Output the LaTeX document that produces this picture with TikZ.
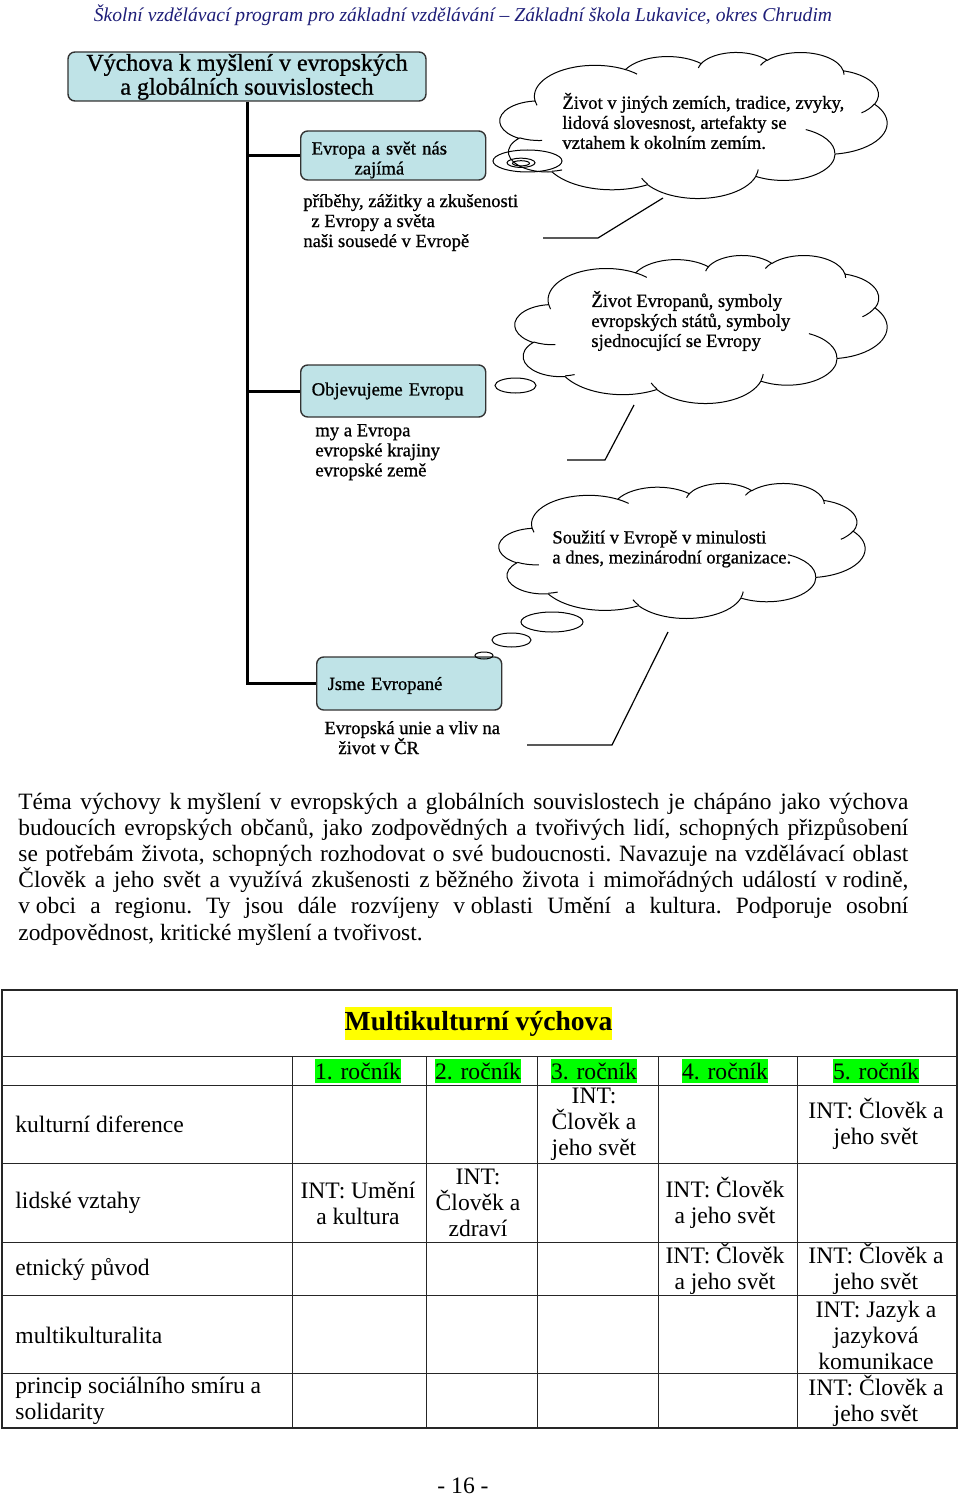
\documentclass[tikz,border=0pt]{standalone}
\usepackage{fontspec}
\setmainfont{Liberation Serif}
\newfontfamily\diagfamily[FakeBold=0.8]{Liberation Serif}
\usepackage{tikz}
\usetikzlibrary{
	positioning
}

\definecolor{boxfill}{RGB}{191,227,231}
\definecolor{headblue}{RGB}{30,30,120}
\definecolor{hlgreen}{RGB}{0,255,0}
\definecolor{hlyellow}{RGB}{255,255,0}

\newcommand\diagsize{\diagfamily\fontsize{9.3}{10}\selectfont}
\newcommand\bodysize{\fontsize{11.7}{13.1}\selectfont}
\newcommand\cellsize{\fontsize{11.8}{13}\selectfont}
\newcommand\czsp{\nobreak\hskip0.25em\relax}
\newcommand\lowerby[2]{\raisebox{-#1}[\height][\depth]{#2}}

% parametric angle of a point given by its visual angle on an ellipse
\pgfmathdeclarefunction{parang}{3}{%
	\begingroup
	\pgfmathparse{atan2((#1)*sin(#3),(#2)*cos(#3))}%
	\pgfmathsmuggle\pgfmathresult
	\endgroup}
\newcommand\carc[4]{arc[x radius=#1,y radius=#2,start angle={parang(#1,#2,#3)},delta angle={mod(parang(#1,#2,(#3)+(#4))-parang(#1,#2,#3)+720,360)}]}

% cloud outline (box 432 x 432), drawn at x,y with width w and height h
\newcommand\cloudshape[4]{%
	\begin{scope}[shift={(#1,#2)},xscale=#3/432,yscale=#4/432]
		\draw[cloudline] (39,143.7) \carc{67.53}{91.90}{-190.4875}{123.7805}
			\carc{53.33}{72.67}{-144.1024}{89.9452}
			\carc{43.65}{59.45}{-145.8079}{99.7230}
			\carc{48.57}{65.95}{-130.9861}{117.2417}
			\carc{53.33}{72.73}{-78.7089}{109.0269}
			\carc{67.75}{92.20}{-46.2673}{130.2690}
			\carc{57.85}{78.67}{0.6250}{114.0333}
			\carc{67.52}{92.15}{22.4516}{115.1726}
			\carc{77.20}{105.43}{66.2426}{75.7110}
			\carc{43.60}{59.18}{-274.9421}{146.7356}
			\carc{43.45}{59.45}{-246.8285}{152.5189} -- cycle;
		\draw[cloudline] (46.93,261.77) \carc{43.45}{59.45}{86.7420}{26.4295}
			(69.28,348.99) \carc{43.60}{59.18}{73.6105}{11.4475}
			(164.78,390.90) \carc{67.52}{92.15}{137.6242}{14.0811}
			(288.27,347.51) \carc{67.52}{92.15}{6.4533}{15.9984}
			(341.29,229.54) \carc{57.85}{78.67}{-70.2924}{70.9174}
			(417.98,153.54) \carc{53.33}{72.73}{30.3180}{27.7515}
			(383.24,54.26) \carc{48.57}{65.95}{-13.7443}{14.8606}
			(290.78,39.52) \carc{48.57}{65.95}{-149.1815}{18.1842}
			(221.41,47.20) \carc{43.65}{59.45}{-163.4943}{17.6925}
			(140.00,51.92) \carc{67.53}{91.90}{-66.7070}{12.3194}
			(41.27,157.89) \carc{67.53}{91.90}{157.6544}{11.8582};
	\end{scope}}

\begin{document}
\begin{tikzpicture}[
			x=0.5pt,y=-0.5pt,
			titlebox/.style={
				draw=black!80,
				line width=0.7pt,
				rounded corners=3.5pt,
				fill=boxfill,
				minimum width=179pt,
				minimum height=24.5pt,
				inner ysep=0pt,
				align=center,
				font=\diagfamily\fontsize{12}{12.5}\selectfont
			},
			topicbox/.style={
				draw=black!80,
				line width=0.7pt,
				rounded corners=3.5pt,
				fill=boxfill,
				text width=81.5pt,
				inner xsep=5.5pt,
				inner ysep=0pt,
				align=left,
				anchor=west,
				font=\diagsize
			},
			notes/.style={inner sep=0pt,align=left,font=\diagsize},
			cloudtext/.style={inner sep=0pt,align=left,anchor=west,font=\diagsize},
			cloudline/.style={line width=0.5pt},
			trunk/.style={line width=1.5pt},
			callout/.style={line width=0.6pt},
			grid/.style={line width=0.45pt,black!85},
			gridouter/.style={line width=0.8pt,black!85},
			cell/.style={inner sep=0pt,align=center,font=\cellsize},
			rowlabel/.style={inner sep=0pt,align=left,anchor=west,font=\cellsize},
			yearhl/.style={fill=hlgreen,inner xsep=0pt,inner ysep=0pt,minimum height=12.3pt,font=\cellsize}
			]
			
			\path[fill=white,use as bounding box] (0,0) rectangle (960,1498);
			
			\node[font=\fontsize{9.8}{11}\selectfont\itshape,text=headblue] (head) at (463,15)
			{Školní vzdělávací program pro základní vzdělávání – Základní škola Lukavice, okres Chrudim};
			
			% map of the topic
			\node[titlebox] (title) at (247,76.5)
			{\lowerby{0.6pt}{\begin{tabular}{@{}c@{}}Výchova k myšlení v evropských\\[-0.5pt]a globálních souvislostech\end{tabular}}};
			
			\node[topicbox,minimum height=24.5pt] (evropa) at (300,155.5)
			{\lowerby{2.5pt}{\begin{tabular}{@{}c@{}}Evropa a svět nás\\zajímá\end{tabular}}};
			
			\node[topicbox,minimum height=26pt] (objev) at (300,391)
			{Objevujeme Evropu};
			
			\node[topicbox,minimum height=26.5pt] (jsme) at (316,683.5)
			{\lowerby{1pt}{Jsme Evropané}};
			
			\node[notes,below right=6.5pt and 1.5pt of evropa.south west] (pribehy)
			{příběhy, zážitky a zkušenosti\\\hspace*{4pt}z Evropy a světa\\naši sousedé v Evropě};
			
			\node[notes,below right=3pt and 7.5pt of objev.south west] (myeu)
			{my a Evropa\\evropské krajiny\\evropské země};
			
			\node[notes,below right=5pt and 4pt of jsme.south west] (unie)
			{Evropská unie a vliv na\\\hspace*{7pt}život v ČR};
			
			\draw[trunk] (title.south) -- (title.south |- jsme.west) -- (jsme.west);
			\draw[trunk] (title.south |- evropa.west) -- (evropa.west);
			\draw[trunk] (title.south |- objev.west) -- (objev.west);
			
			% clouds
			\cloudshape{500}{52}{387}{146}
			\cloudshape{515}{255}{372}{148}
			\cloudshape{499}{483}{366}{135}
			
			\node[cloudtext] (zivot) at (562,121)
			{Život v jiných zemích, tradice, zvyky,\\lidová slovesnost, artefakty se\\vztahem k okolním zemím.};
			
			\node[cloudtext] (symboly) at (591,321)
			{Život Evropanů, symboly\\evropských států, symboly\\sjednocující se Evropy};
			
			\node[cloudtext] (souziti) at (552,549)
			{Soužití v Evropě v minulosti\\a dnes, mezinárodní organizace.};
			
			\draw[cloudline] (527.5,161) ellipse[x radius=34.5,y radius=11];
			\draw[cloudline] (521,162.8) ellipse[x radius=14,y radius=4.6];
			\draw[cloudline] (521,163.3) ellipse[x radius=8.5,y radius=2.6];
			\draw[cloudline] (515.5,385.5) ellipse[x radius=20.5,y radius=7.5];
			\draw[cloudline] (552,622) ellipse[x radius=31,y radius=10];
			\draw[cloudline] (511.5,640) ellipse[x radius=19.5,y radius=7];
			\draw[cloudline] (484,655.5) ellipse[x radius=9,y radius=3.5];
			
			\coordinate (tip1) at (663,198);
			\coordinate (knee1) at (598,238);
			\coordinate (end1) at (543,238);
			\coordinate (tip2) at (634,405);
			\coordinate (knee2) at (605,460);
			\coordinate (end2) at (567,460);
			\coordinate (tip3) at (668,632);
			\coordinate (knee3) at (612,745);
			\coordinate (end3) at (527,745);
			\foreach \i in {1,2,3}
			\draw[callout] (tip\i) -- (knee\i) -- (end\i);
			
			% text
			\node[inner sep=0pt,text width=445pt,align=justify,anchor=west,font=\bodysize] (tema) at (18,869)
			{\frenchspacing\hyphenpenalty=10000 Téma výchovy k\czsp myšlení v~evropských a globálních souvislostech je chápáno jako výchova\linebreak
			budoucích evropských občanů, jako zodpovědných a tvořivých lidí, schopných přizpůsobení\linebreak
			se potřebám života, schopných rozhodovat o své budoucnosti. Navazuje na vzdělávací oblast\linebreak
			Člověk a jeho svět a využívá zkušenosti z\czsp běžného života i mimořádných událostí v\czsp rodině,\linebreak
			v\czsp obci a regionu. Ty jsou dále rozvíjeny v\czsp oblasti Umění a kultura. Podporuje osobní\linebreak
			zodpovědnost, kritické myšlení a tvořivost.};
			
			% table
			\draw[gridouter] (2,990) rectangle (957,1428);
			\foreach \y in {1056,1085,1163,1242,1295,1373}
			\draw[grid] (2,\y) -- (957,\y);
			\foreach \x in {292,426,537,658,797}
			\draw[grid] (\x,1056) -- (\x,1428);
			
			\node[fill=hlyellow,inner xsep=0pt,inner ysep=0pt,minimum height=16.5pt,
				font=\fontsize{13.8}{15}\selectfont\bfseries] (mkv) at (478.5,1023.5)
			{Multikulturní výchova};
			
			\foreach \x/\n in {358/1,478/2,594/3,725/4,876/5}
			\node[yearhl] (year\n) at (\x,1071) {\n. ročník};
			
			\node[rowlabel] (kd) at (15,1124) {kulturní diference};
			\node[rowlabel] (lv) at (15,1203) {lidské vztahy};
			\node[rowlabel] (ep) at (15,1269) {etnický původ};
			\node[rowlabel] (mk) at (15,1335) {multikulturalita};
			\node[rowlabel] (ps) at (15,1401) {princip sociálního smíru a\\solidarity};
			
			\node[cell] (kd3) at (594,1124) {INT:\\Člověk a\\jeho svět};
			\node[cell] (kd5) at (876,1124) {INT: Člověk a\\jeho svět};
			\node[cell] (lv1) at (358,1203) {INT: Umění\\a kultura};
			\node[cell] (lv2) at (478,1203) {INT:\\Člověk a\\zdraví};
			\node[cell] (lv4) at (725,1203) {INT: Člověk\\a jeho svět};
			\node[cell] (ep4) at (725,1269) {INT: Člověk\\a jeho svět};
			\node[cell] (ep5) at (876,1269) {INT: Člověk a\\jeho svět};
			\node[cell] (mk5) at (876,1335) {INT: Jazyk a\\jazyková\\komunikace};
			\node[cell] (ps5) at (876,1401) {INT: Člověk a\\jeho svět};
			
			\node[font=\cellsize] (strana) at (463,1486) {- 16 -};
			
		\end{tikzpicture}
\end{document}
